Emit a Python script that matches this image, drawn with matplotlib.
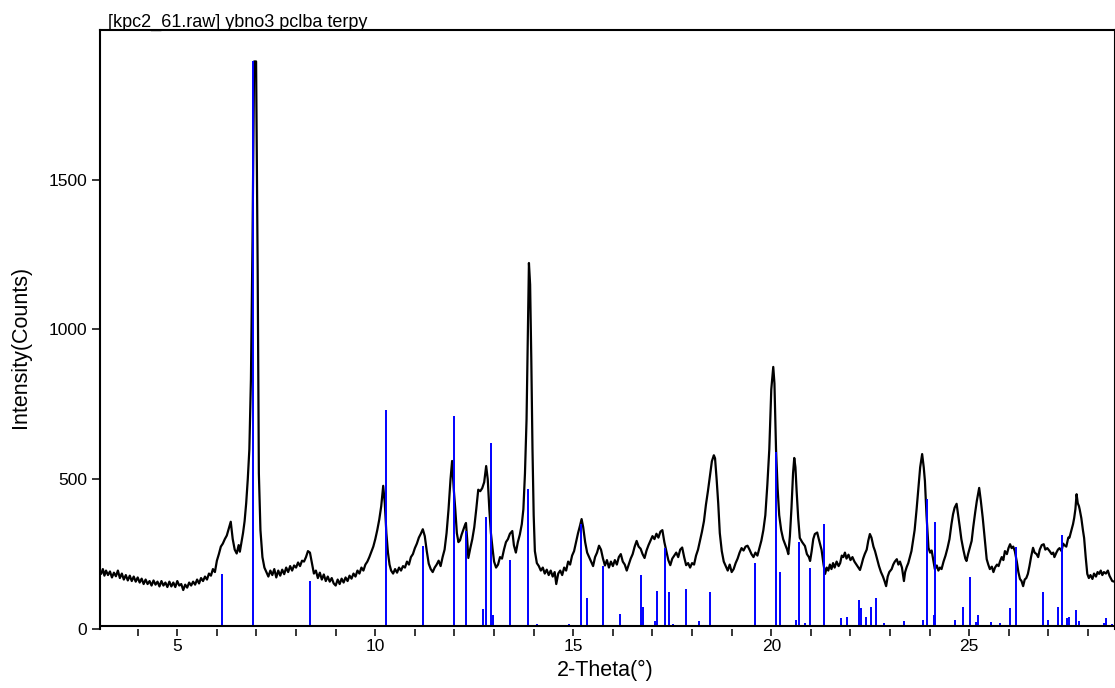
import matplotlib
matplotlib.use("Agg")
import matplotlib.pyplot as plt
from matplotlib.ticker import MultipleLocator

plt.rcParams["font.family"] = ["Liberation Sans", "DejaVu Sans"]

# ---------------------------------------------------------------------------
# Measured pattern (2-theta in degrees, intensity in counts), read off the scan
# ---------------------------------------------------------------------------
two_theta = [
    3.08, 3.12, 3.16, 3.20, 3.25, 3.30, 3.35, 3.40, 3.45, 3.50, 3.55, 3.60, 3.65, 3.70,
    3.75, 3.80, 3.85, 3.90, 3.95, 4.00, 4.05, 4.10, 4.15, 4.20, 4.25, 4.30, 4.35, 4.40,
    4.45, 4.50, 4.55, 4.60, 4.65, 4.70, 4.75, 4.80, 4.85, 4.90, 4.95, 5.00, 5.05, 5.10,
    5.15, 5.20, 5.25, 5.30, 5.35, 5.40, 5.45, 5.50, 5.55, 5.60, 5.65, 5.70, 5.75, 5.80,
    5.85, 5.90, 5.95, 6.00, 6.05, 6.10, 6.15, 6.20, 6.25, 6.30, 6.35, 6.40, 6.45, 6.50,
    6.55, 6.58, 6.62, 6.66, 6.70, 6.74, 6.78, 6.82, 6.86, 6.90, 6.94, 6.99, 7.03, 7.06,
    7.10, 7.15, 7.20, 7.25, 7.30, 7.35, 7.40, 7.45, 7.50, 7.55, 7.60, 7.65, 7.70, 7.75,
    7.80, 7.85, 7.90, 7.95, 8.00, 8.05, 8.10, 8.15, 8.20, 8.25, 8.30, 8.35, 8.40, 8.45,
    8.50, 8.55, 8.60, 8.65, 8.70, 8.75, 8.80, 8.85, 8.90, 8.95, 9.00, 9.05, 9.10, 9.15,
    9.20, 9.25, 9.30, 9.35, 9.40, 9.45, 9.50, 9.55, 9.60, 9.65, 9.70, 9.75, 9.80, 9.85,
    9.90, 9.95, 10.00, 10.05, 10.10, 10.15, 10.20, 10.24, 10.28, 10.32, 10.36, 10.40,
    10.45, 10.50, 10.55, 10.60, 10.65, 10.70, 10.75, 10.80, 10.85, 10.90, 10.95, 11.00,
    11.05, 11.10, 11.15, 11.20, 11.25, 11.30, 11.35, 11.40, 11.45, 11.50, 11.55, 11.60,
    11.65, 11.70, 11.75, 11.80, 11.85, 11.90, 11.94, 11.98, 12.02, 12.06, 12.10, 12.14,
    12.18, 12.22, 12.26, 12.29, 12.32, 12.35, 12.40, 12.45, 12.50, 12.55, 12.60, 12.65,
    12.70, 12.75, 12.80, 12.84, 12.88, 12.92, 12.96, 13.00, 13.05, 13.10, 13.15, 13.20,
    13.25, 13.30, 13.35, 13.40, 13.46, 13.50, 13.55, 13.60, 13.65, 13.70, 13.74, 13.78,
    13.82, 13.85, 13.88, 13.91, 13.94, 13.97, 14.00, 14.03, 14.08, 14.13, 14.18, 14.23,
    14.28, 14.33, 14.38, 14.43, 14.48, 14.53, 14.57, 14.62, 14.67, 14.72, 14.77, 14.82,
    14.87, 14.92, 14.97, 15.02, 15.07, 15.12, 15.17, 15.21, 15.25, 15.30, 15.35, 15.40,
    15.45, 15.50, 15.55, 15.60, 15.65, 15.70, 15.75, 15.80, 15.85, 15.90, 15.95, 16.00,
    16.05, 16.10, 16.15, 16.20, 16.25, 16.30, 16.35, 16.40, 16.45, 16.50, 16.55, 16.60,
    16.65, 16.70, 16.75, 16.80, 16.85, 16.90, 16.95, 17.00, 17.05, 17.10, 17.15, 17.20,
    17.25, 17.30, 17.35, 17.40, 17.45, 17.50, 17.55, 17.60, 17.65, 17.70, 17.75, 17.80,
    17.85, 17.90, 17.95, 18.00, 18.05, 18.10, 18.15, 18.20, 18.25, 18.30, 18.35, 18.40,
    18.45, 18.50, 18.55, 18.58, 18.62, 18.66, 18.70, 18.75, 18.80, 18.85, 18.90, 18.95,
    19.00, 19.05, 19.10, 19.15, 19.20, 19.25, 19.30, 19.35, 19.40, 19.45, 19.50, 19.55,
    19.60, 19.65, 19.70, 19.75, 19.80, 19.85, 19.90, 19.95, 20.00, 20.05, 20.08, 20.12,
    20.16, 20.20, 20.25, 20.30, 20.35, 20.40, 20.43, 20.47, 20.51, 20.55, 20.58, 20.61,
    20.64, 20.68, 20.72, 20.78, 20.85, 20.90, 20.95, 20.98, 21.02, 21.06, 21.10, 21.16,
    21.20, 21.27, 21.32, 21.36, 21.40, 21.44, 21.48, 21.52, 21.56, 21.60, 21.65, 21.70,
    21.74, 21.78, 21.82, 21.86, 21.90, 21.95, 22.00, 22.05, 22.10, 22.15, 22.20, 22.24,
    22.28, 22.32, 22.36, 22.41, 22.45, 22.49, 22.53, 22.58, 22.62, 22.67, 22.72, 22.77,
    22.82, 22.86, 22.90, 22.94, 22.98, 23.04, 23.08, 23.12, 23.17, 23.21, 23.25, 23.30,
    23.35, 23.38, 23.42, 23.46, 23.50, 23.54, 23.58, 23.62, 23.67, 23.71, 23.76, 23.81,
    23.85, 23.88, 23.92, 23.97, 24.01, 24.05, 24.09, 24.13, 24.18, 24.22, 24.26, 24.30,
    24.35, 24.40, 24.45, 24.50, 24.55, 24.59, 24.63, 24.68, 24.72, 24.76, 24.80, 24.85,
    24.90, 24.93, 24.97, 25.02, 25.06, 25.10, 25.15, 25.19, 25.25, 25.29, 25.34, 25.39,
    25.44, 25.48, 25.52, 25.57, 25.61, 25.65, 25.70, 25.74, 25.78, 25.82, 25.86, 25.90,
    25.95, 25.99, 26.03, 26.07, 26.11, 26.15, 26.20, 26.24, 26.28, 26.32, 26.36, 26.40,
    26.44, 26.48, 26.52, 26.56, 26.61, 26.65, 26.70, 26.74, 26.78, 26.83, 26.88, 26.92,
    26.97, 27.03, 27.08, 27.12, 27.15, 27.20, 27.24, 27.28, 27.33, 27.37, 27.40, 27.45,
    27.50, 27.53, 27.58, 27.62, 27.65, 27.68, 27.71, 27.74, 27.77, 27.79, 27.83, 27.87,
    27.90, 27.94, 27.98, 28.02, 28.06, 28.11, 28.15, 28.20, 28.24, 28.28, 28.32, 28.36,
    28.40, 28.45, 28.50, 28.54, 28.58, 28.61, 28.66, 28.70,
]

counts = [
    185, 200, 178, 195, 180, 192, 172, 188, 176, 195, 170, 185, 165, 180,
    162, 178, 160, 175, 158, 172, 155, 168, 150, 165, 150, 160, 145, 162,
    148, 158, 142, 160, 145, 155, 140, 158, 142, 155, 140, 160, 145, 150,
    130, 148, 138, 155, 145, 158, 148, 165, 152, 170, 160, 175, 165, 185,
    178, 200, 190, 228, 250, 275, 285, 300, 312, 335, 358, 300, 265, 252,
    280, 258, 290, 320, 360, 420, 500, 600, 835, 1300, 1895, 1895, 1200, 520,
    330, 240, 205, 190, 175, 195, 180, 200, 172, 195, 178, 198, 183, 205,
    190, 210, 195, 212, 205, 222, 210, 228, 225, 240, 260, 255, 220, 185,
    195, 170, 188, 165, 182, 160, 175, 158, 170, 152, 145, 165, 150, 168,
    155, 172, 160, 178, 168, 185, 175, 195, 185, 205, 195, 215, 225, 240,
    258, 275, 300, 330, 365, 410, 478, 420, 320, 255, 215, 195,
    185, 200, 188, 205, 195, 210, 205, 225, 215, 240, 250, 270,
    285, 305, 318, 333, 310, 260, 218, 200, 190, 205, 215, 228,
    210, 240, 265, 320, 400, 500, 561, 470, 400, 320, 290, 296,
    315, 330, 345, 354, 300, 237, 270, 300, 340, 400, 465, 460,
    470, 490, 544, 500, 400, 320, 270, 225, 205, 215, 240, 235,
    265, 290, 300, 318, 327, 280, 255, 290, 315, 350, 400, 520,
    700, 950, 1222, 1150, 900, 600, 380, 260, 220, 210, 195, 205,
    185, 198, 180, 195, 175, 190, 150, 185, 195, 180, 205, 195,
    225, 215, 245, 260, 290, 320, 345, 367, 340, 290, 255, 240,
    225, 210, 240, 255, 278, 265, 235, 212, 230, 205, 225, 210,
    230, 215, 240, 250, 225, 215, 195, 215, 235, 250, 275, 294,
    275, 268, 250, 237, 262, 280, 295, 310, 300, 318, 305, 325,
    330, 290, 260, 230, 213, 235, 245, 255, 240, 265, 272, 240,
    213, 220, 205, 220, 215, 245, 265, 295, 325, 360, 415, 460,
    510, 560, 580, 570, 500, 420, 320, 260, 225, 210, 195, 215,
    190, 200, 220, 235, 255, 270, 262, 275, 278, 265, 250, 240,
    255, 245, 270, 295, 330, 380, 480, 600, 800, 875, 820, 600,
    470, 380, 330, 300, 283, 265, 250, 310, 404, 520, 571, 540,
    461, 370, 304, 290, 277, 250, 240, 227, 260, 300, 317, 322,
    300, 264, 215, 184, 205, 195, 215, 200, 220, 205, 225, 210,
    220, 245, 240, 255, 235, 248, 230, 240, 225, 215, 205, 197,
    215, 235, 250, 265, 295, 317, 305, 275, 260, 235, 210, 190,
    175, 160, 143, 175, 190, 200, 215, 225, 233, 215, 225, 205,
    160, 190, 207, 220, 240, 260, 294, 330, 400, 461, 540, 584,
    540, 494, 380, 271, 255, 262, 230, 200, 212, 195, 205, 200,
    225, 245, 270, 300, 350, 383, 405, 418, 380, 341, 300, 265,
    235, 227, 250, 275, 294, 340, 390, 427, 471, 430, 371, 300,
    233, 215, 200, 208, 190, 205, 215, 210, 227, 240, 230, 260,
    250, 270, 283, 270, 275, 260, 225, 190, 167, 160, 143, 165,
    170, 184, 210, 240, 271, 255, 250, 240, 265, 280, 283, 265,
    270, 260, 250, 255, 240, 255, 265, 270, 260, 285, 280, 275,
    305, 305, 330, 350, 371, 400, 450, 420, 410, 398, 370, 330,
    304, 240, 184, 170, 180, 167, 185, 175, 190, 184, 195, 180,
    190, 185, 195, 178, 168, 160, 158, 162,
]

# Reference stick pattern (peak position, intensity)
stick_pos = [
    6.13, 6.92, 8.35, 10.27, 11.20, 12.00, 12.28, 12.71, 12.79, 12.92, 12.97,
    13.40, 13.57, 13.85, 14.08, 14.88, 15.19, 15.34, 15.74, 16.18, 16.70, 16.75,
    17.06, 17.12, 17.31, 17.41, 17.52, 17.84, 18.18, 18.45, 19.59, 19.84, 20.11,
    20.21, 20.62, 20.70, 20.85, 20.98, 21.34, 21.44, 21.76, 21.92, 22.21, 22.26,
    22.39, 22.52, 22.64, 22.84, 23.35, 23.84, 23.93, 24.11, 24.14, 24.39, 24.64,
    24.83, 25.01, 25.17, 25.23, 25.50, 25.56, 25.78, 26.03, 26.18, 26.87, 26.99,
    27.24, 27.33, 27.47, 27.51, 27.70, 27.78, 28.18, 28.39, 28.46, 28.60,
]
stick_int = [
    185, 1895, 160, 731, 277, 711, 327, 67, 374, 621, 47,
    230, 10, 467, 17, 17, 350, 104, 210, 50, 180, 73,
    27, 127, 271, 122, 17, 134, 27, 122, 220, 10, 591,
    190, 30, 290, 20, 204, 350, 10, 37, 40, 97, 70,
    40, 73, 104, 20, 27, 30, 434, 47, 357, 10, 30,
    73, 174, 23, 47, 13, 23, 20, 70, 274, 124, 30,
    73, 314, 37, 40, 64, 27, 10, 20, 37, 17,
]

BASELINE = 10

fig = plt.figure(figsize=(11.15, 6.88), dpi=100)
ax = fig.add_axes([0.0901, 0.0858, 0.9099, 0.8706])

ax.plot(two_theta, counts, color="black", linewidth=1.6, zorder=2)
ax.vlines(stick_pos, BASELINE, stick_int, color="#0000FF", linewidth=1.4, zorder=3)
ax.axhline(BASELINE, color="black", linewidth=1.5, zorder=4)

ax.set_xlim(3.06, 28.68)
ax.set_ylim(0, 2000)

ax.xaxis.set_major_locator(MultipleLocator(5))
ax.xaxis.set_minor_locator(MultipleLocator(1))
ax.set_yticks([0, 500, 1000, 1500])

ax.tick_params(axis="x", which="both", direction="out", length=5, width=1.1,
               labelsize=12.5, pad=2)
ax.tick_params(axis="y", direction="out", length=5.5, width=1.1,
               labelsize=12.5, pad=4)

for side in ["left", "top", "right"]:
    ax.spines[side].set_linewidth(1.5)
ax.spines["bottom"].set_visible(False)

ax.set_xlabel("2-Theta(°)", fontsize=15.5, va="center")
ax.xaxis.set_label_coords(0.4973, -0.070)
ax.set_ylabel("Intensity(Counts)", fontsize=15.5, va="center")
ax.yaxis.set_label_coords(-0.0784, 0.4708)

fig.text(0.0969, 0.9608, "[kpc2_61.raw] ybno3 pclba terpy", fontsize=13,
         ha="left", va="baseline")

fig.savefig("out.png", dpi=100)
